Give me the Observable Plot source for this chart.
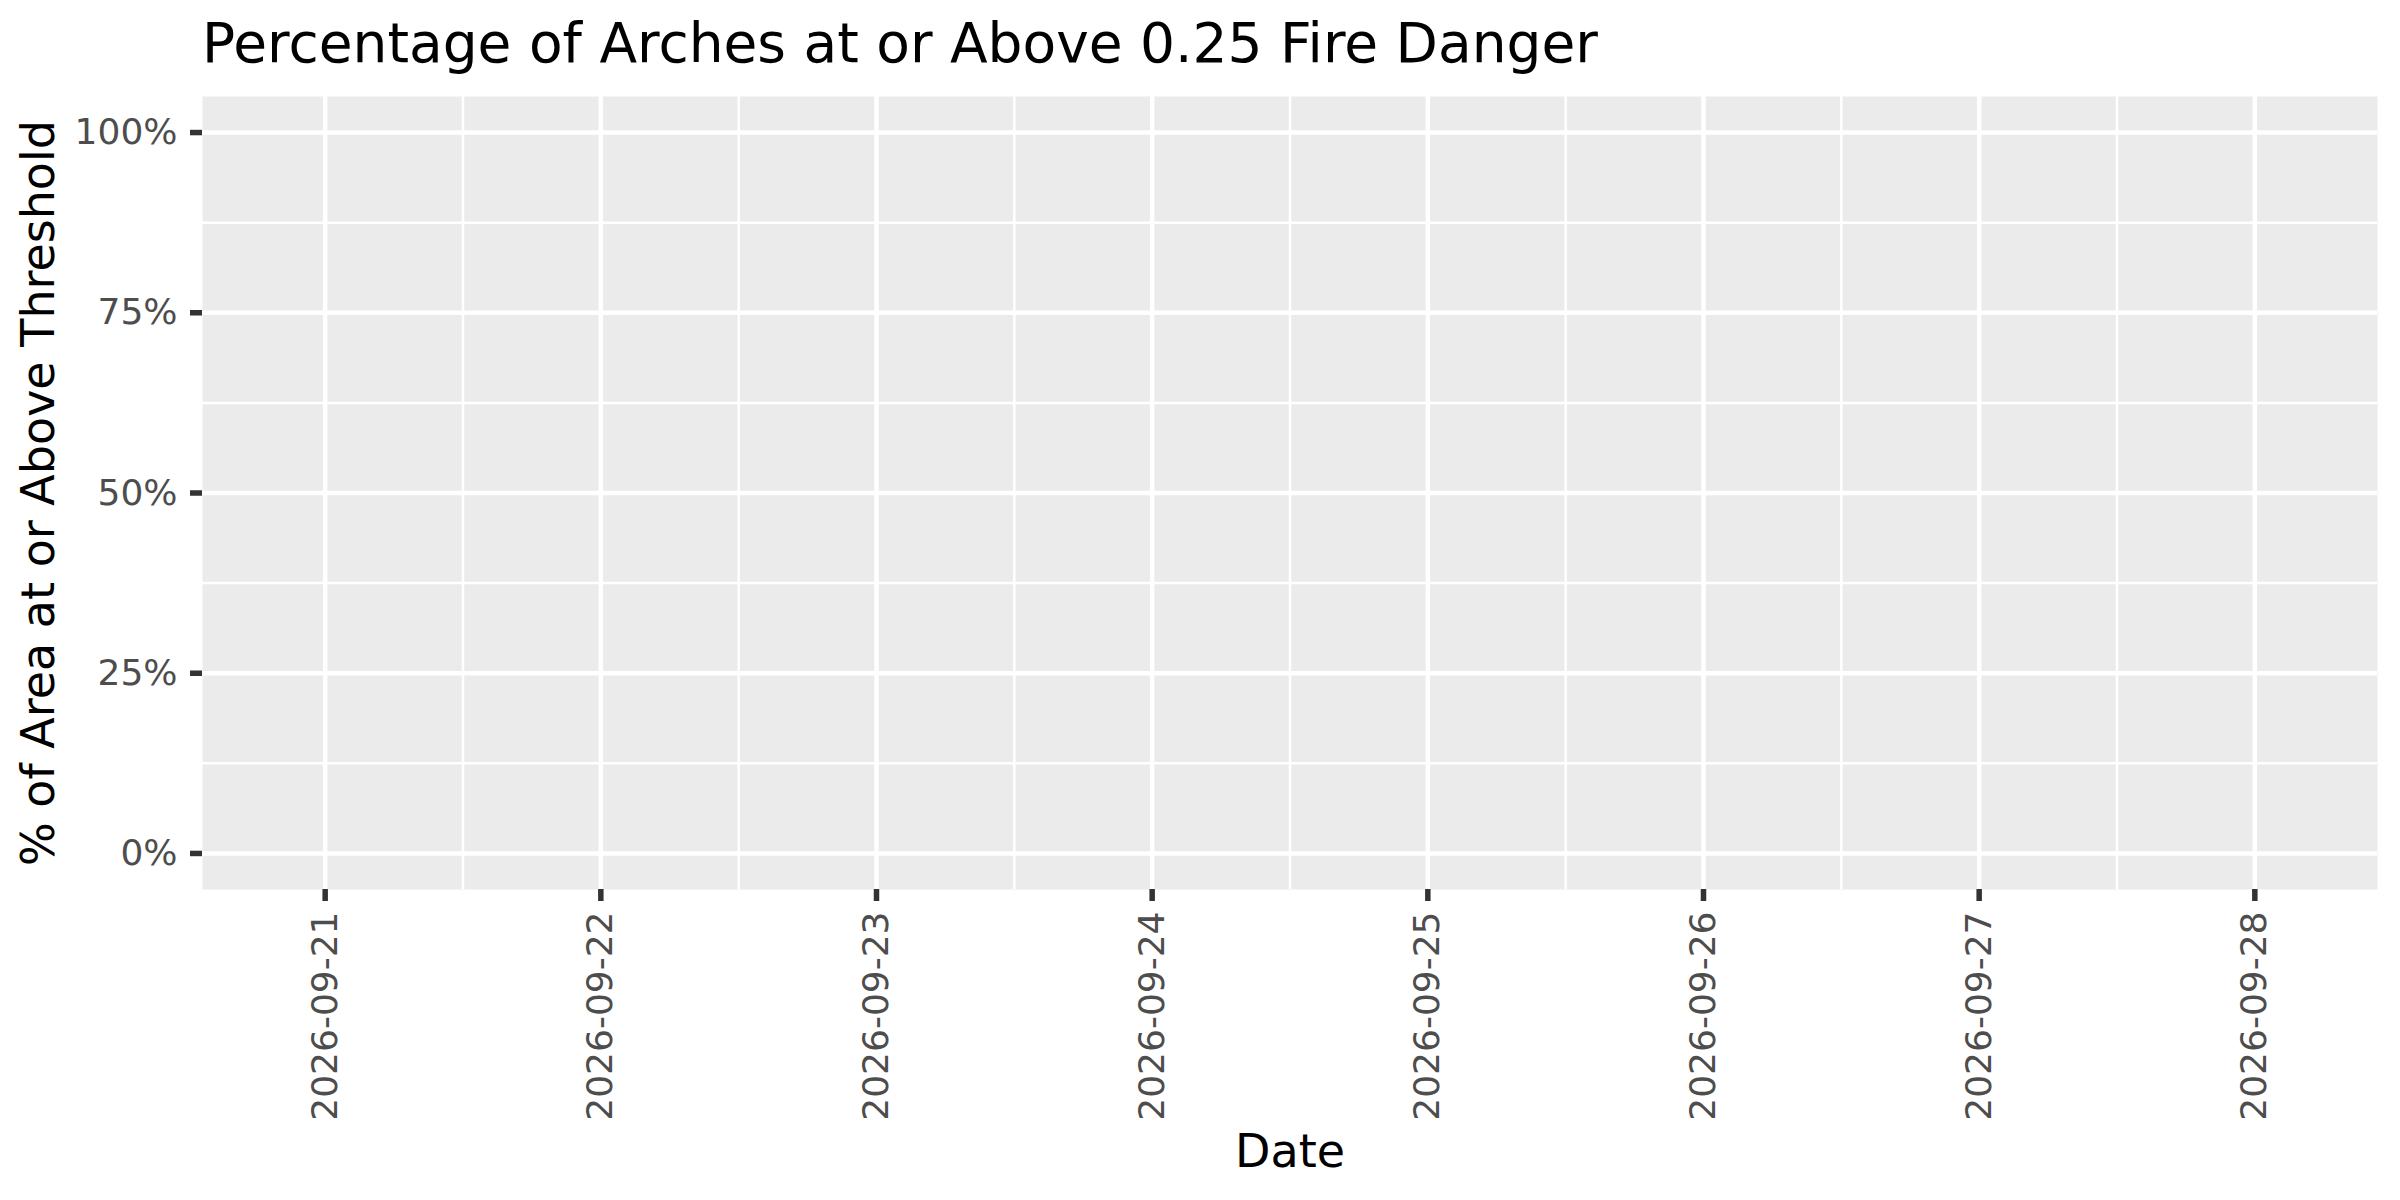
<!DOCTYPE html>
<html>
<head>
<meta charset="utf-8">
<script src="https://cdn.jsdelivr.net/npm/d3@7"></script>
<script src="https://cdn.jsdelivr.net/npm/@observablehq/plot@0.6"></script>
<style>
  html, body { margin: 0; padding: 0; background: #ffffff; }
  #wrap { width: 2400px; height: 1200px; font-family: "DejaVu Sans", sans-serif; }
  #title { box-sizing: border-box; height: 80px; padding: 16px 0 0 202px; font-size: 55px; line-height: 55px; color: #000; white-space: nowrap; }
  svg { display: block; }
</style>
</head>
<body>
<div id="wrap">
  <div id="title">Percentage of Arches at or Above 0.25 Fire Danger</div>
  <div id="chart"></div>
</div>
<script>
// ---- data ----
const dateLabels = ["2026-09-21", "2026-09-22", "2026-09-23", "2026-09-24", "2026-09-25", "2026-09-26", "2026-09-27", "2026-09-28"];
// no visible values in the reference (series is empty / missing)
const pctAbove = [null, null, null, null, null, null, null, null];
const yTicks = [0, 0.25, 0.5, 0.75, 1];
const yMinor = [0.125, 0.375, 0.625, 0.875];
const yTitle = "% of Area at or Above Threshold";
const xTitle = "Date";

const dates = dateLabels.map(s => d3.utcParse("%Y-%m-%d")(s));
const rows = dates.map((d, i) => ({date: d, pct: pctAbove[i]}));
const xMinor = d3.pairs(dates).map(([a, b]) => new Date((+a + +b) / 2));
const pad = 0.445 * 864e5;
const xDomain = [new Date(+dates[0] - pad), new Date(+dates[dates.length - 1] + pad)];

const chart = Plot.plot({
  width: 2400,
  height: 1120,
  marginTop: 16,
  marginBottom: 311,
  marginLeft: 202,
  marginRight: 23,
  style: {fontFamily: "DejaVu Sans, sans-serif", background: "#ffffff"},
  x: {type: "utc", domain: xDomain},
  y: {domain: [-0.05, 1.05]},
  marks: [
    Plot.frame({fill: "#EBEBEB", stroke: null}),
    Plot.ruleY(yMinor, {stroke: "#ffffff", strokeWidth: 2.5}),
    Plot.ruleX(xMinor, {stroke: "#ffffff", strokeWidth: 2.5}),
    Plot.ruleY(yTicks, {stroke: "#ffffff", strokeWidth: 4.5}),
    Plot.ruleX(dates, {stroke: "#ffffff", strokeWidth: 4.5}),
    Plot.line(rows, {x: "date", y: "pct", stroke: "#F8766D", strokeWidth: 3}),
    Plot.axisY(yTicks, {
      tickFormat: d => Math.round(d * 100) + "%",
      tickSize: 12, tickPadding: 13, fontSize: 36,
      stroke: "#333333", strokeWidth: 5.5, fill: "#4D4D4D", label: null
    }),
    Plot.axisX(dates, {
      tickFormat: d3.utcFormat("%Y-%m-%d"),
      tickRotate: -90,
      tickSize: 12, tickPadding: 10, fontSize: 36,
      stroke: "#333333", strokeWidth: 5.5, fill: "#4D4D4D", label: null
    }),
    Plot.text([yTitle], {frameAnchor: "left", rotate: -90, dx: -163, fontSize: 46, fill: "#000000", textAnchor: "middle", lineAnchor: "middle"}),
    Plot.text([xTitle], {frameAnchor: "bottom", dy: 263, fontSize: 46, fill: "#000000", textAnchor: "middle", lineAnchor: "middle"})
  ]
});
document.getElementById("chart").appendChild(chart);
</script>
</body>
</html>
